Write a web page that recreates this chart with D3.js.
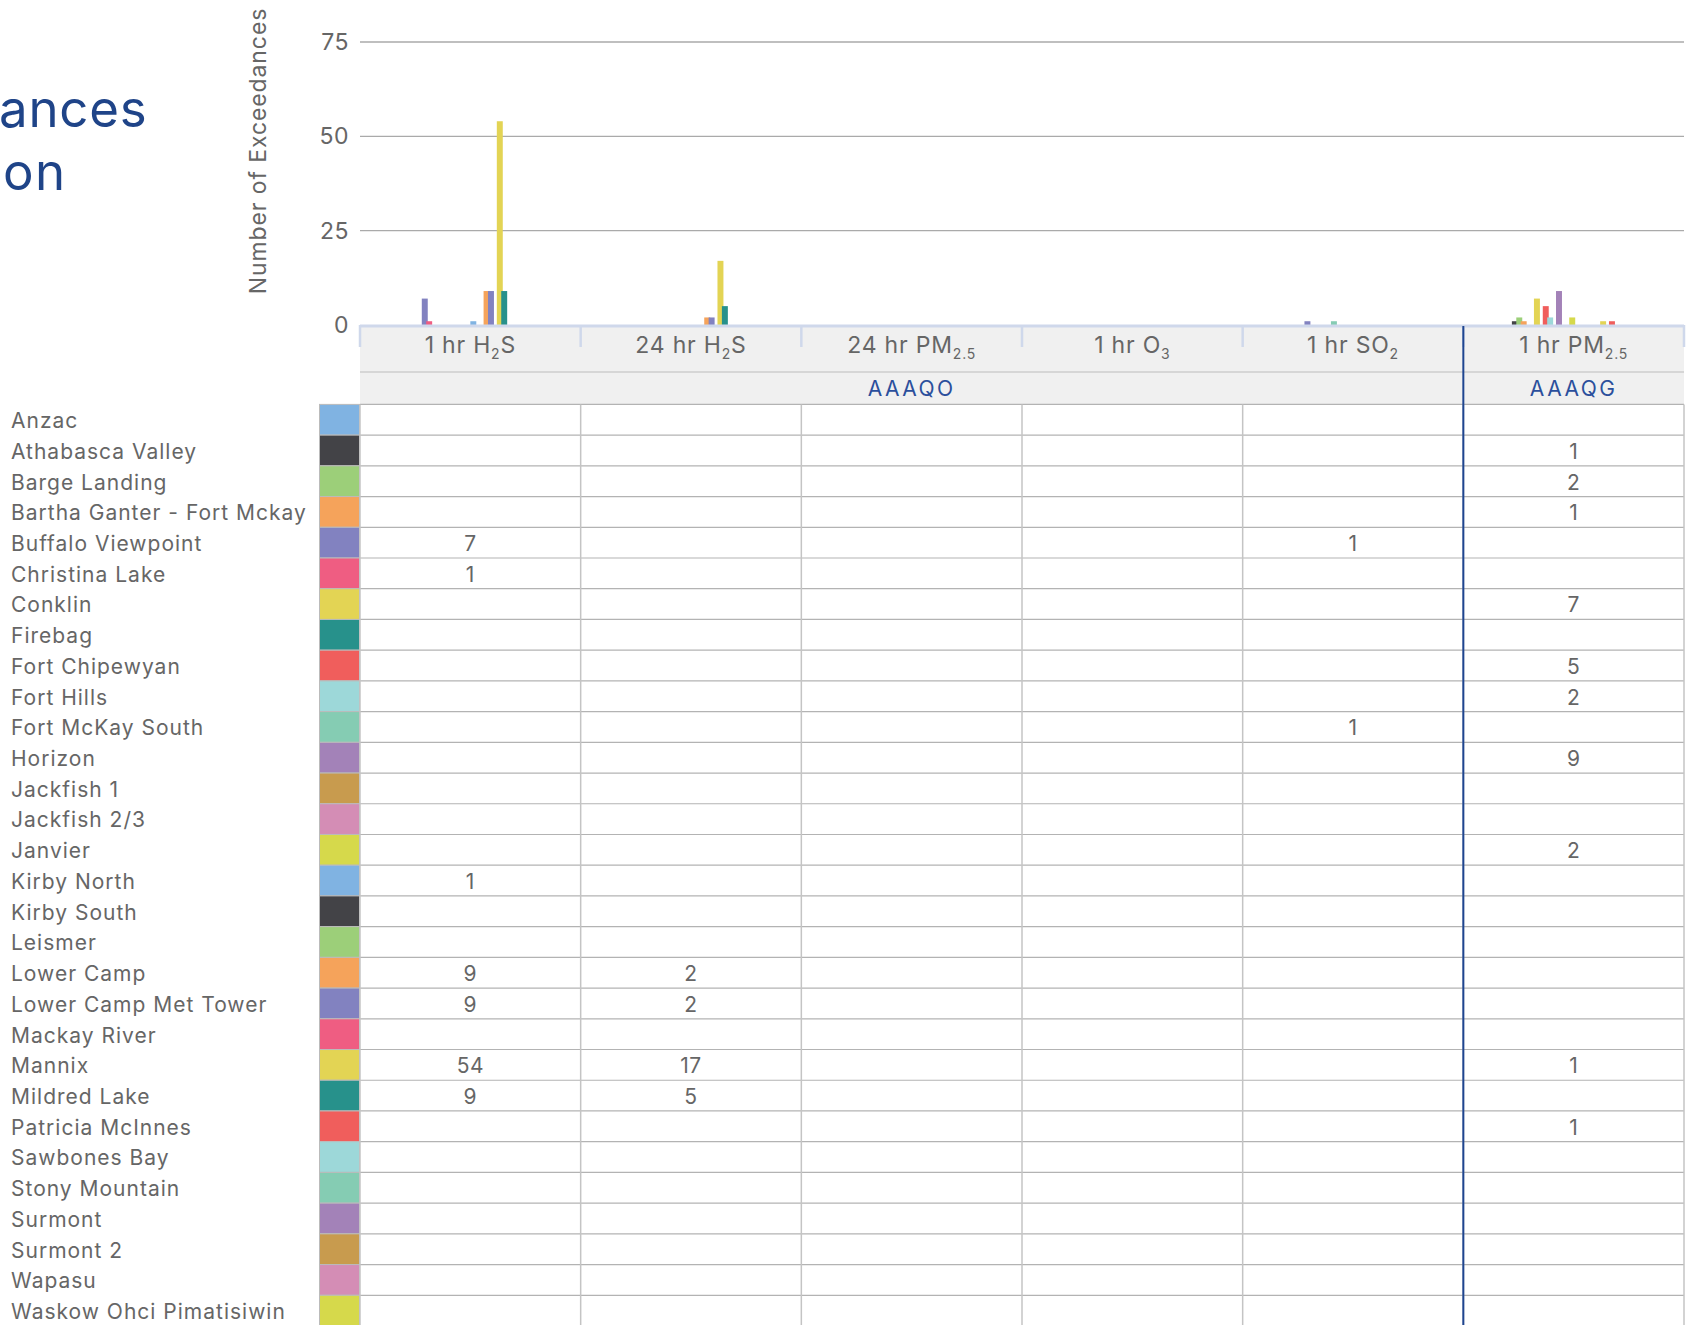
<!DOCTYPE html>
<html>
<head>
<meta charset="utf-8">
<script src="https://cdn.jsdelivr.net/npm/d3@7/dist/d3.min.js"></script>
<style>
  body { margin: 0; background: #fff; overflow: hidden; }
  text { font-family: Inter, "Open Sans", sans-serif; }
</style>
</head>
<body>
<svg id="chart" width="1691" height="1325"></svg>
<script>
var stations = [
  "Anzac", "Athabasca Valley", "Barge Landing", "Bartha Ganter - Fort Mckay",
  "Buffalo Viewpoint", "Christina Lake", "Conklin", "Firebag", "Fort Chipewyan",
  "Fort Hills", "Fort McKay South", "Horizon", "Jackfish 1", "Jackfish 2/3",
  "Janvier", "Kirby North", "Kirby South", "Leismer", "Lower Camp",
  "Lower Camp Met Tower", "Mackay River", "Mannix", "Mildred Lake",
  "Patricia McInnes", "Sawbones Bay", "Stony Mountain", "Surmont", "Surmont 2",
  "Wapasu", "Waskow Ohci Pimatisiwin"
];
// palette repeats every 15 stations
var palette = [
  "#80b3e2", "#434347", "#9ccf79", "#f5a35b", "#8282c0", "#ef5d82", "#e3d454",
  "#27918b", "#f05e5c", "#9dd8d9", "#85ccb3", "#a382b8", "#c89b4e", "#d48db5",
  "#d6d94b"
];

var categories = ["1 hr H2S", "24 hr H2S", "24 hr PM2.5", "1 hr O3", "1 hr SO2", "1 hr PM2.5"];
var catMain = ["1 hr H", "24 hr H", "24 hr PM", "1 hr O", "1 hr SO", "1 hr PM"];
var catSub  = ["2", "2", "2.5", "3", "2", "2.5"];
var catTail = ["S", "S", "", "", "", ""];
var groups = [{name: "AAAQO", first: 0, last: 4}, {name: "AAAQG", first: 5, last: 5}];
var yTicks = [0, 25, 50, 75];

// number of exceedances per station (same order as stations), null = none
var n = null;
var h2s1hr  = [n,n,n,n,7,1,n,n,n,n,n,n,n,n,n,1,n,n,9,9,n,54,9,n,n,n,n,n,n,n];
var h2s24hr = [n,n,n,n,n,n,n,n,n,n,n,n,n,n,n,n,n,n,2,2,n,17,5,n,n,n,n,n,n,n];
var pm24hr  = [n,n,n,n,n,n,n,n,n,n,n,n,n,n,n,n,n,n,n,n,n,n,n,n,n,n,n,n,n,n];
var o31hr   = [n,n,n,n,n,n,n,n,n,n,n,n,n,n,n,n,n,n,n,n,n,n,n,n,n,n,n,n,n,n];
var so21hr  = [n,n,n,n,1,n,n,n,n,n,1,n,n,n,n,n,n,n,n,n,n,n,n,n,n,n,n,n,n,n];
var pm1hr   = [n,1,2,1,n,n,7,n,5,2,n,9,n,n,2,n,n,n,n,n,n,1,n,1,n,n,n,n,n,n];

var seriesByCat = [h2s1hr, h2s24hr, pm24hr, o31hr, so21hr, pm1hr];

var svg = d3.select("#chart");

var left = 360, right = 1684, baseY = 325, topY = 42;
var band1Bottom = 372, band2Bottom = 404.4;
var rowH = 30.72;

var x0 = d3.scaleBand().domain(categories).range([left, right]);
var bw = x0.bandwidth();
var x1 = d3.scaleBand().domain(stations).range([bw * 0.2, bw * 0.8]);
var y = d3.scaleLinear().domain([0, 75]).range([baseY, topY]);
var rowY = d3.scaleBand().domain(stations).range([band2Bottom, band2Bottom + rowH * stations.length]);
var color = function (i) { return palette[i % palette.length]; };

// title (cut off on the left)
svg.append("text").attr("x", -1).attr("y", 127)
  .attr("font-size", 51).attr("letter-spacing", 0.8).attr("fill", "#1f4488").text("ances");
svg.append("text").attr("x", 3).attr("y", 190)
  .attr("font-size", 51).attr("letter-spacing", 1.5).attr("fill", "#1f4488").text("on");

// header bands
svg.append("rect").attr("x", left).attr("y", baseY).attr("width", right - left)
  .attr("height", band2Bottom - baseY).attr("fill", "#f0f0f0");
svg.append("line").attr("x1", left).attr("x2", right).attr("y1", band1Bottom).attr("y2", band1Bottom)
  .attr("stroke", "#bbbbbb").attr("stroke-width", 1.2);

// gridlines + y labels
var yAxis = svg.append("g");
yTicks.forEach(function (t) {
  if (t > 0) {
    yAxis.append("line").attr("x1", left).attr("x2", right)
      .attr("y1", y(t)).attr("y2", y(t))
      .attr("stroke", "#aaaaaa").attr("stroke-width", 1.3);
  }
  yAxis.append("text").attr("x", 349).attr("y", y(t) + 8)
    .attr("text-anchor", "end").attr("font-size", 23).attr("letter-spacing", 0.5).attr("fill", "#666")
    .text(t);
});

svg.append("text")
  .attr("transform", "translate(266,151) rotate(-90)")
  .attr("text-anchor", "middle").attr("font-size", 23).attr("letter-spacing", 0.9).attr("fill", "#666")
  .text("Number of Exceedances");

// bars
var barW = x1.bandwidth() * 1.35;
categories.forEach(function (cat, ci) {
  var vals = seriesByCat[ci];
  svg.append("g").selectAll("rect")
    .data(vals.map(function (v, i) { return {v: v, i: i}; }).filter(function (d) { return d.v; }))
    .enter().append("rect")
    .attr("x", function (d) { return x0(cat) + x1(stations[d.i]); })
    .attr("y", function (d) { return y(d.v); })
    .attr("width", barW)
    .attr("height", function (d) { return baseY - y(d.v); })
    .attr("fill", function (d) { return color(d.i); });
});

// x axis baseline + ticks
svg.append("line").attr("x1", left).attr("x2", right).attr("y1", baseY + 1).attr("y2", baseY + 1)
  .attr("stroke", "#cfd8eb").attr("stroke-width", 3);
d3.range(categories.length + 1).forEach(function (i) {
  var xx = left + i * bw;
  svg.append("line").attr("x1", xx).attr("x2", xx).attr("y1", baseY).attr("y2", 347)
    .attr("stroke", "#cfd8eb").attr("stroke-width", 2.5);
});

// category labels with subscripts
categories.forEach(function (cat, ci) {
  var t = svg.append("text").attr("x", x0(cat) + bw / 2).attr("y", 353)
    .attr("text-anchor", "middle").attr("font-size", 23).attr("letter-spacing", 0.8).attr("fill", "#666");
  t.append("tspan").text(catMain[ci]);
  t.append("tspan").attr("font-size", 14).attr("dy", 6).text(catSub[ci]);
  if (catTail[ci]) t.append("tspan").attr("dy", -6).text(catTail[ci]);
});

// group labels
groups.forEach(function (g) {
  var gx = (x0(categories[g.first]) + x0(categories[g.last]) + bw) / 2;
  svg.append("text").attr("x", gx).attr("y", 396)
    .attr("text-anchor", "middle").attr("font-size", 21).attr("fill", "#2b4f9c")
    .attr("letter-spacing", 2.5).text(g.name);
});

// table
var table = svg.append("g");
stations.forEach(function (s, i) {
  var ry = rowY(s);
  table.append("rect").attr("x", 319.5).attr("y", ry).attr("width", 40).attr("height", rowH)
    .attr("fill", color(i)).attr("stroke", "#bbbbbb").attr("stroke-width", 1);
  table.append("line").attr("x1", left).attr("x2", right).attr("y1", ry).attr("y2", ry)
    .attr("stroke", "#b3b3b3").attr("stroke-width", 1.2);
  table.append("text").attr("x", 11).attr("y", ry + rowH - 7)
    .attr("font-size", 21).attr("letter-spacing", 1).attr("fill", "#666").text(s);
  categories.forEach(function (cat, ci) {
    var v = seriesByCat[ci][i];
    if (v) {
      table.append("text").attr("x", x0(cat) + bw / 2).attr("y", ry + rowH - 7)
        .attr("text-anchor", "middle").attr("font-size", 21).attr("letter-spacing", 0.5)
        .attr("fill", "#666").text(v);
    }
  });
});
d3.range(categories.length + 1).forEach(function (i) {
  var xx = left + i * bw;
  table.append("line").attr("x1", xx).attr("x2", xx).attr("y1", band2Bottom).attr("y2", 1325)
    .attr("stroke", "#c4c4c4").attr("stroke-width", 1.5);
});

// divider between AAAQO and AAAQG
var divX = x0(categories[5]);
svg.append("line").attr("x1", divX).attr("x2", divX).attr("y1", baseY + 1).attr("y2", 1325)
  .attr("stroke", "#1f4590").attr("stroke-width", 2);
</script>
</body>
</html>
